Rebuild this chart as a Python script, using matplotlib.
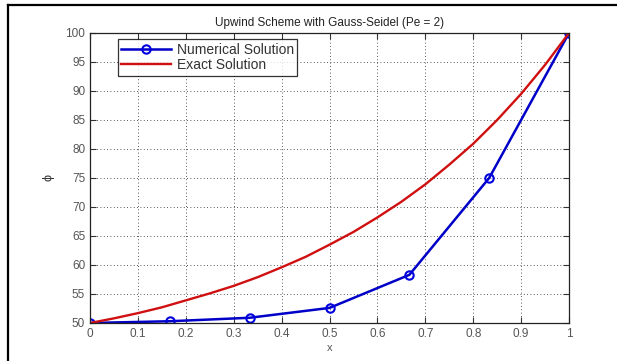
import numpy as np
import matplotlib.pyplot as plt
from matplotlib.lines import Line2D

# numerical solution at the grid nodes
x_num = [0, 1/6, 2/6, 3/6, 4/6, 5/6, 1]
phi_num = [50.0, 50.3, 50.9, 52.6, 58.3, 75.0, 100.0]

# exact solution sampled along x
x_ex = [0, 0.05, 0.1, 0.15, 0.2, 0.25, 0.3, 0.35, 0.4, 0.45, 0.5,
        0.55, 0.6, 0.65, 0.7, 0.75, 0.8, 0.85, 0.9, 0.95, 1.0]
phi_ex = [50.0, 50.8, 51.7, 52.7, 53.9, 55.1, 56.4, 57.9, 59.6, 61.4, 63.5,
          65.7, 68.2, 70.9, 73.9, 77.3, 80.9, 85.0, 89.5, 94.5, 100.0]

xticks = [0, 0.1, 0.2, 0.3, 0.4, 0.5, 0.6, 0.7, 0.8, 0.9, 1]
xticklabels = ['0', '0.1', '0.2', '0.3', '0.4', '0.5', '0.6', '0.7', '0.8', '0.9', '1']
yticks = [50, 55, 60, 65, 70, 75, 80, 85, 90, 95, 100]

plt.rcParams['font.family'] = ['Liberation Sans', 'DejaVu Sans']

fig = plt.figure(figsize=(6.17, 3.61), dpi=100)
ax = fig.add_axes([0.1459, 0.1053, 0.7763, 0.8033])

ax.plot(x_num, phi_num, color='#0000c8', lw=1.8, marker='o', ms=6,
        mfc='none', mec='#0000e0', mew=1.5, label='Numerical Solution')
ax.plot(x_ex, phi_ex, color='#d01010', lw=1.7, label='Exact Solution')

ax.set_xlim(0, 1)
ax.set_ylim(50, 100)
ax.set_xticks(xticks)
ax.set_xticklabels(xticklabels)
ax.set_yticks(yticks)
ax.grid(True, color='#222222', linestyle=(0, (1, 3)), linewidth=0.6)
ax.tick_params(direction='in', top=True, right=True, labelsize=8.5,
               length=4, colors='#333333', labelcolor='#555555')
for s in ax.spines.values():
    s.set_color('#222222')
    s.set_linewidth(0.9)

ax.set_title('Upwind Scheme with Gauss-Seidel (Pe = 2)', fontsize=8.5,
             color='#222222', pad=5)
ax.set_xlabel('x', fontsize=8, color='#555555', labelpad=2)
ax.set_ylabel('\u03d5', fontsize=9, color='#333333', labelpad=8)

leg = ax.legend(loc='upper left', bbox_to_anchor=(0.058, 0.979), fontsize=10,
                frameon=True, fancybox=False, edgecolor='black',
                handlelength=3.6, borderpad=0.25, labelspacing=0.12,
                handletextpad=0.4, borderaxespad=0)
leg.get_frame().set_linewidth(0.9)
for t in leg.get_texts():
    t.set_color('#333333')

# outer frame edges along the top and left
fig.add_artist(Line2D([8/617, 1], [1 - 5/361, 1 - 5/361],
                      transform=fig.transFigure, color='black', lw=1.6))
fig.add_artist(Line2D([8/617, 8/617], [0, 1 - 5/361],
                      transform=fig.transFigure, color='black', lw=1.6))

fig.savefig('out.png', dpi=100)
